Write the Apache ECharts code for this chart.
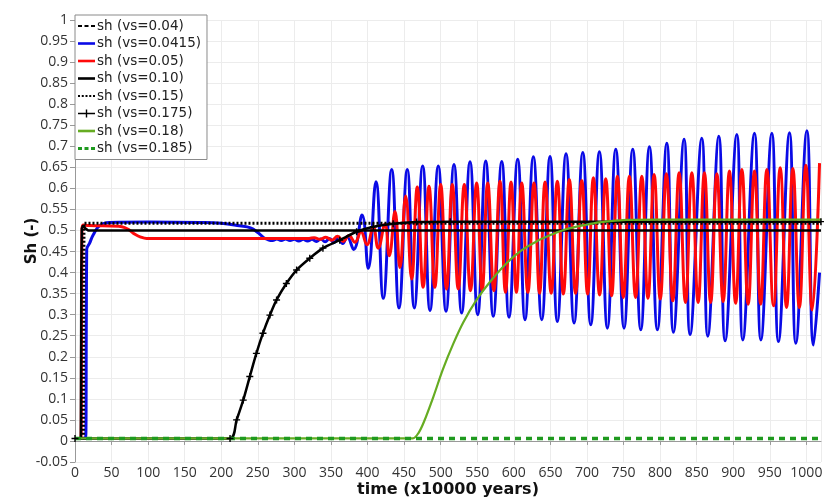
<!DOCTYPE html>
<html><head><meta charset="utf-8">
<script src="https://cdn.jsdelivr.net/npm/echarts@6/dist/echarts.min.js"></script>
<style>html,body{margin:0;padding:0;background:#fff}#c{width:824px;height:497px}</style>
</head><body><div id="c"></div>
<script>
// ---- data (time in x10000 years, Sh in -) ----
const legendNames = ['sh (vs=0.04)','sh (vs=0.0415)','sh (vs=0.05)','sh (vs=0.10)','sh (vs=0.15)','sh (vs=0.175)','sh (vs=0.18)','sh (vs=0.185)'];
const xTicks = {min:0, max:1020, step:50};
const yTicks = {min:-0.05, max:1, step:0.05};

const s004 = [[0,0.006],[1020,0.006]];
const s0415 = [[0,0.006],[14.5,0.006],[15.5,0.3],[16,0.455],[20,0.47],[25,0.49],[34,0.512],[47,0.519],[100,0.52],[170,0.519],[200,0.517],[225,0.511],[240,0.506],[250,0.495],[258,0.483],[264,0.478],[270,0.476],[276,0.480],[282,0.476],[288,0.480],[294,0.476],[300,0.479],[306,0.475],[312,0.479],[318,0.475],[324,0.479],[330,0.474],[336,0.480],[342,0.473],[348,0.481],[354,0.471],[360,0.483],[366,0.469],[372,0.485],[381,0.455],[392.5,0.537],[401,0.41],[411.5,0.616],
[421.5,0.339],[433,0.645],[443,0.316],[454.3,0.645],[463.9,0.316],[475.4,0.653],[485.4,0.31],[496.7,0.653],[507.3,0.308],[518.2,0.657],[528.7,0.304],[540.1,0.663],[550.6,0.3],[561.6,0.665],[571.9,0.296],[583.5,0.664],[593.4,0.294],[605.3,0.669],[615.3,0.288],[626.7,0.675],[638.2,0.288],[649.5,0.676],[659.5,0.284],[671.4,0.682],[682.4,0.28],[694.3,0.685],[705.2,0.276],[717,0.687],[727.9,0.268],[739.4,0.693],[750.7,0.268],[762.6,0.693],[773.6,0.264],[785.4,0.699],[796.3,0.264],[809.2,0.707],[818.2,0.258],[832.8,0.717],[841,0.253],[857,0.719],[865.2,0.249],[880.3,0.724],[888.9,0.238],[904.9,0.728],[913.1,0.24],[929,0.731],[937.8,0.24],[952.8,0.731],[961.8,0.236],[976.9,0.732],[985.6,0.232],[1000.7,0.737],[1009.7,0.228],[1018,0.40]];
const s005 = [[0,0.006],[8,0.006],[9,0.3],[9.5,0.5],[11,0.513],[20,0.512],[60,0.51],[68,0.507],[75,0.5],[82,0.491],[89,0.485],[98,0.481],[150,0.481],[250,0.481],[320,0.481],[327,0.483],[335,0.479],[343,0.484],[351,0.477],[359,0.486],[366.7,0.474],[374.5,0.488],[382.8,0.472],[391,0.497],[399.2,0.466],[407.8,0.508],[414.6,0.458],[423.7,0.515],[429.7,0.44],
[437.5,0.545],[444.3,0.412],[452.1,0.582],[460.3,0.385],[468,0.603],[476,0.365],[484,0.605],[492,0.365],[500,0.609],[508,0.361],[515.9,0.609],[524,0.361],[532.3,0.609],[540.7,0.357],[549.2,0.613],[556.7,0.357],[564.3,0.613],[572.7,0.357],[581.1,0.617],[588.6,0.353],[596.2,0.615],[603.5,0.353],[610.8,0.613],[619.2,0.353],[627.6,0.613],[635.2,0.351],[642.7,0.615],[651.1,0.351],[659.5,0.617],[667.7,0.349],[675.9,0.621],[684.4,0.351],[692.9,0.619],[700.9,0.349],[708.8,0.625],[717.3,0.347],[725.7,0.623],[733.7,0.345],[741.6,0.629],[749.8,0.341],[758,0.629],[766.5,0.341],[775,0.629],[783.4,0.339],[791.8,0.633],[800.2,0.337],[808.6,0.635],[817.3,0.333],[826,0.637],[834.7,0.329],[843.4,0.637],[852,0.329],[860.6,0.637],[869.1,0.329],[877.6,0.635],[886.2,0.331],[894.8,0.641],[903.3,0.327],[911.8,0.645],[920.4,0.325],[929,0.641],[937.5,0.325],[946,0.645],[955.1,0.321],[964.2,0.649],[972.9,0.317],[981.5,0.647],[990.4,0.317],[999.3,0.655],[1008,0.311],[1018,0.66]];
const s010 = [[0,0.006],[8,0.006],[8.6,0.4],[9.3,0.505],[11,0.512],[14,0.505],[18,0.5],[1020,0.5]];
const s015 = [[0,0.006],[11.5,0.006],[12.3,0.517],[1020,0.517]];
const s0175 = [[0,0.006],[212,0.006],[221,0.05],[230,0.097],[239,0.153],[248,0.208],[257,0.256],[266.5,0.299],[275.6,0.335],[289,0.374],[303,0.406],[321,0.434],[339,0.458],[362,0.477],[385,0.497],[408,0.509],[435,0.516],[467,0.52],[513,0.521],[1020,0.521]];
const s018 = [[0,0.006],[462,0.006],[470,0.02],[477,0.045],[490,0.105],[503,0.17],[517,0.23],[531,0.282],[549,0.335],[567,0.377],[590,0.422],[610,0.452],[631,0.474],[650,0.489],[668,0.501],[686,0.509],[709,0.517],[732,0.522],[754,0.525],[800,0.526],[1020,0.526]];
const s0185 = [[0,0.006],[1020,0.006]];

const plusPath = 'path://M4,0h2v4h4v2h-4v4h-2v-4h-4v-2h4z';
const ICON = {
  solid:  'path://M0,0h17v2.6h-17z',
  dashed: 'path://M0,0h4v2h-4zM6.5,0h4v2h-4zM13,0h4v2h-4z',
  gdash:  'path://M0,0h4v3h-4zM6.5,0h4v3h-4zM13,0h4v3h-4z',
  dotted: 'path://M0,0h2v2h-2zM3.75,0h2v2h-2zM7.5,0h2v2h-2zM11.25,0h2v2h-2zM15,0h2v2h-2z',
  plus:   'path://M0,4h17v1.4h-17zM7.8,0.7h1.4v8h-1.4z'
};
const legendIcons = [ICON.dashed, ICON.solid, ICON.solid, ICON.solid, ICON.dotted, ICON.plus, ICON.solid, ICON.gdash];
const AXFONT = 'Open Sans';
const LGFONT = 'DejaVu Sans';

const chart = echarts.init(document.getElementById('c'), null, {renderer:'canvas'});
function line(name, data, color, width, type, extra){
  return Object.assign({
    name, type:'line', data, showSymbol:false, symbol:'none', animation:false,
    lineStyle:{color, width, type}, itemStyle:{color}, emphasis:{disabled:true}
  }, extra||{});
}
chart.setOption({
  animation:false,
  grid:{left:75, right:3, top:20, bottom:35, containLabel:false, outerBoundsMode:'none'},
  legend:{
    left:75, top:15, orient:'vertical', selectedMode:false,
    itemWidth:17, itemHeight:14, itemGap:3.5, symbolKeepAspect:true,
    padding:[4,6,4,3], borderColor:'#8a8a8a', borderWidth:1, backgroundColor:'#fff',
    textStyle:{fontFamily:LGFONT, fontSize:13.5, color:'#222', padding:[0,0,0,-3]},
    data:legendNames.map((n,i)=>({name:n, icon: legendIcons[i]}))
  },
  xAxis:{
    type:'value', min:xTicks.min, max:xTicks.max, interval:xTicks.step,
    name:'time (x10000 years)', nameLocation:'middle', nameGap:20, nameMoveOverlap:false,
    nameTextStyle:{fontFamily:LGFONT, fontSize:16, fontWeight:'bold', color:'#111'},
    axisLine:{lineStyle:{color:'#999'}},
    axisTick:{length:4, lineStyle:{color:'#999'}},
    axisLabel:{fontFamily:AXFONT, fontSize:14, color:'#333', margin:4, showMaxLabel:false, formatter:v=>String(v)},
    splitLine:{lineStyle:{color:'#ececec'}}
  },
  yAxis:{
    type:'value', min:yTicks.min, max:yTicks.max, interval:yTicks.step,
    name:'Sh (-)', nameLocation:'middle', nameGap:35, nameMoveOverlap:false,
    nameTextStyle:{fontFamily:LGFONT, fontSize:15, fontWeight:'bold', color:'#111'},
    axisLine:{show:true, lineStyle:{color:'#999'}},
    axisTick:{show:true, length:5, lineStyle:{color:'#999'}},
    axisLabel:{fontFamily:AXFONT, fontSize:14, color:'#333', margin:7},
    splitLine:{lineStyle:{color:'#ececec'}}
  },
  series:[
    line(legendNames[0], s004, '#000', 2, [6,5]),
    line(legendNames[1], s0415, '#0a0ae6', 3, 'solid', {smooth:0.45}),
    line(legendNames[2], s005, '#ff0a0a', 3, 'solid', {smooth:0.45}),
    line(legendNames[3], s010, '#000', 2.5, 'solid'),
    line(legendNames[4], s015, '#000', 3, [2,2]),
    line(legendNames[5], s0175, '#000', 2.5, 'solid', {smooth:0.3, symbol:plusPath, symbolSize:7, showSymbol:true}),
    line(legendNames[6], s018, '#66ac22', 2.2, 'solid', {smooth:0.3}),
    line(legendNames[7], s0185, '#1f9a1f', 3.5, [6,5])
  ]
});
</script></body></html>
